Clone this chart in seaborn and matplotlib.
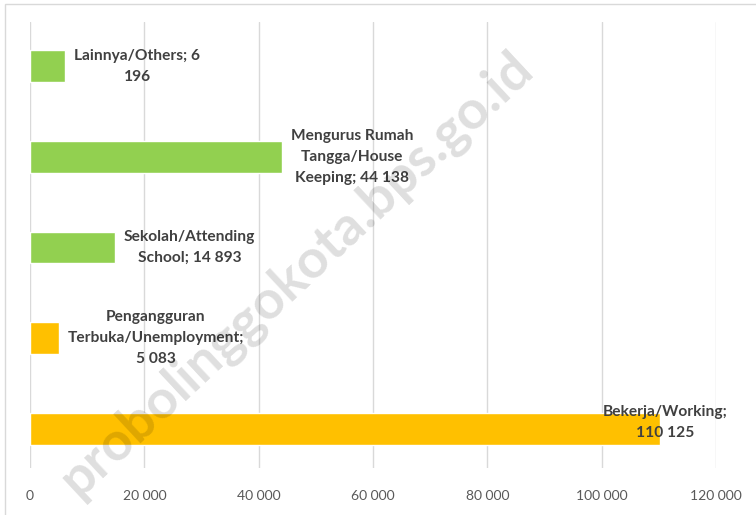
import pandas as pd
import matplotlib.pyplot as plt
import seaborn as sns
from matplotlib.patches import Rectangle

# Chart data (top to bottom)
categories = ["Lainnya/Others", "Mengurus Rumah Tangga/House Keeping", "Sekolah/Attending School",
              "Pengangguran Terbuka/Unemployment", "Bekerja/Working"]
values = [6196, 44138, 14893, 5083, 110125]
groups = ["not", "not", "not", "labour", "labour"]
label_texts = ["Lainnya/Others; 6\n196", "Mengurus Rumah\nTangga/House\nKeeping; 44 138",
               "Sekolah/Attending\nSchool; 14 893", "Pengangguran\nTerbuka/Unemployment;\n5 083",
               "Bekerja/Working;\n110 125"]
ticks = [0, 20000, 40000, 60000, 80000, 100000, 120000]
tick_labels = ["0", "20 000", "40 000", "60 000", "80 000", "100 000", "120 000"]

df = pd.DataFrame({"cat": categories, "val": values, "grp": groups})

sns.set_style("white")
plt.rcParams["font.family"] = ["Lato", "DejaVu Sans"]

fig = plt.figure(figsize=(7.56, 5.15), dpi=100)
ax = fig.add_axes([0.0397, 0.0913, 0.9077, 0.8657])

sns.barplot(data=df, y="cat", x="val", hue="grp", orient="h",
            palette={"not": "#92D050", "labour": "#FFC000"},
            dodge=False, width=0.35, legend=False, saturation=1, ax=ax)

ax.set_xlim(0, 120000)
ax.set_ylim(4.43, -0.485)
ax.set_xticks(ticks)
ax.set_xticklabels(tick_labels, fontsize=10, color="#595959")
ax.set_yticks([])
ax.set_xlabel("")
ax.set_ylabel("")
ax.tick_params(axis="x", length=0, pad=16)
ax.grid(axis="x", color="#D9D9D9", linewidth=1)
ax.set_axisbelow(True)
for s in ax.spines.values():
    s.set_visible(False)

# data labels
for i, (v, t) in enumerate(zip(values, label_texts)):
    if v > 100000:
        ax.text(v + 1000, i - 0.07, t, ha="center", va="center", fontsize=11.2,
                fontweight="bold", color="#404040", multialignment="center", linespacing=1.65)
    else:
        ax.text(v + 1500, i, t, ha="left", va="center", fontsize=11.2,
                fontweight="bold", color="#404040", multialignment="center", linespacing=1.65)

# watermark
fig.text(0.392, 0.468, "probolinggokota.bps.go.id", rotation=43, fontsize=39,
         fontweight="bold", color="black", alpha=0.13, ha="center", va="center", zorder=5)

# outer border
fig.patches.append(Rectangle((0.006, -0.01), 1.2, 1.002, transform=fig.transFigure,
                             fill=False, edgecolor="#D9D9D9", linewidth=1))

fig.savefig("out.png", dpi=100)
